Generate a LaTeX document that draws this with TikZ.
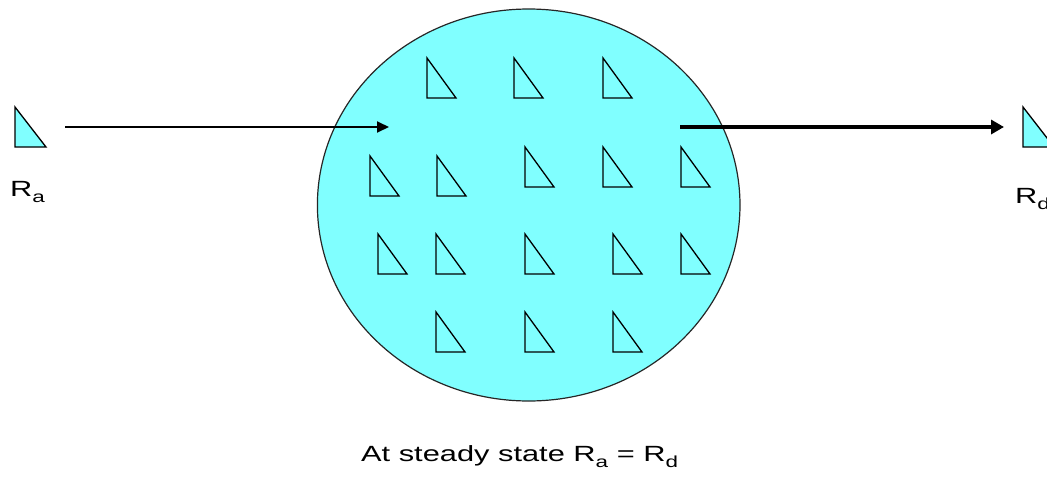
\documentclass[tikz,border=0pt]{standalone}
\usepackage{fontspec}
\setmainfont[FakeStretch=1.4]{Liberation Sans}
\usetikzlibrary{arrows.meta}
\definecolor{aqua}{RGB}{128,255,255}
\newcommand\mysub[1]{\raisebox{-6pt}{\fontsize{16}{18}\selectfont #1}}
\begin{document}
\begin{tikzpicture}[x=1pt,y=-1pt,
  tri/.style={draw=black, line width=1.3pt, fill=aqua, line join=miter},
  lbl/.style={anchor=base west, inner sep=0pt, font=\fontsize{22}{26}\selectfont},
  flow/.style={-{Triangle[length=12pt,width=11pt]}}]
\useasboundingbox (0,0) rectangle (1047,477);
\clip (0,0) rectangle (1047,477);
% the well
\draw[fill=aqua, draw=black!85, line width=1.2pt] (528.7,205) ellipse [x radius=211.3, y radius=196];
% triangles inside
\foreach \x/\y in {427/58, 514/58, 603/58,
                   370/156, 437/156, 525/147, 603/147, 681/147,
                   378/234, 436/234, 525/234, 613/234, 681/234,
                   436/312, 525/312, 613/312}
  {\draw[tri] (\x,\y) -- (\x,\y+40) -- (\x+29,\y+40) -- cycle;}
% outer triangles
\draw[tri] (15,107) -- (15,147) -- (46,147) -- cycle;
\draw[tri] (1023,107) -- (1023,147) -- (1054,147) -- cycle;
% labels
\node[lbl] (ra) at (10,196) {R\mysub{a}};
\node[lbl] (rd) at (1015,203) {R\mysub{d}};
\node[lbl] (cap) at (361,461) {At steady state R\mysub{a} = R\mysub{d}};
% arrows
\coordinate (a1s) at (65,127);
\coordinate (a1e) at (389,127);
\coordinate (a2s) at (680,127);
\coordinate (a2e) at (1004,127);
\draw[flow, line width=2pt] (a1s) -- (a1e);
\draw[-{Triangle[length=13pt,width=14pt]}, line width=4pt] (a2s) -- (a2e);
\end{tikzpicture}
\end{document}
